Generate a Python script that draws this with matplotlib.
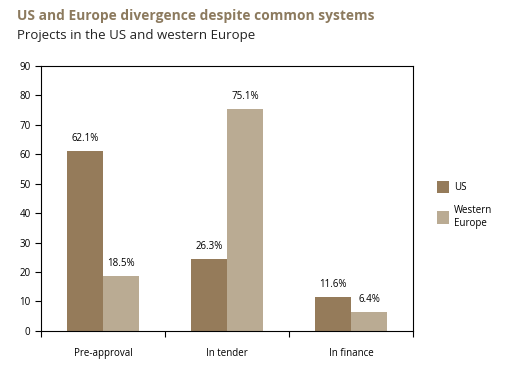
import matplotlib.pyplot as plt
import numpy as np

plt.rcParams['font.family'] = ['Open Sans', 'DejaVu Sans']

categories = ["Pre-approval", "In tender", "In finance"]
us_values = [61.1, 24.4, 11.6]
we_values = [18.6, 75.3, 6.4]
us_labels = ["62.1%", "26.3%", "11.6%"]
we_labels = ["18.5%", "75.1%", "6.4%"]
series_names = ["US", "Western\nEurope"]

us_color = "#957b5a"
we_color = "#baab93"

fig = plt.figure(figsize=(5.12, 3.71), dpi=100)
ax = fig.add_axes([0.080, 0.108, 0.727, 0.714])

x = np.arange(len(categories))
w = 0.29
bars_us = ax.bar(x - w / 2, us_values, w, color=us_color, label=series_names[0])
bars_we = ax.bar(x + w / 2, we_values, w, color=we_color, label=series_names[1])

for bars, labels in [(bars_us, us_labels), (bars_we, we_labels)]:
    for b, lab in zip(bars, labels):
        ax.annotate(lab, (b.get_x() + b.get_width() / 2, b.get_height()),
                    xytext=(0, 5), textcoords="offset points",
                    ha="center", va="bottom", fontsize=7)

ax.set_xlim(-0.5, len(categories) - 0.5)
ax.set_ylim(0, 90)
ax.set_yticks(range(0, 91, 10))
ax.set_xticks(np.arange(-0.5, len(categories)), minor=False)
ax.set_xticklabels([])
ax.set_xticks(x, minor=True)
ax.set_xticklabels(categories, minor=True)
ax.tick_params(axis="x", which="major", length=4, width=0.8, direction="out")
ax.tick_params(axis="x", which="minor", length=0, pad=12, labelsize=7)
ax.tick_params(axis="y", length=4, width=0.8, direction="out", labelsize=7)
for s in ax.spines.values():
    s.set_linewidth(0.8)

ax.legend(loc="upper left", bbox_to_anchor=(1.04, 0.60), frameon=False,
          fontsize=7, handlelength=1.3, handleheight=1.6,
          labelspacing=1.2, handletextpad=0.5)

fig.text(0.033, 0.958, "US and Europe divergence despite common systems",
         fontsize=9.9, fontweight="bold", color="#8c7a5e", va="center")
fig.text(0.033, 0.905, "Projects in the US and western Europe",
         fontsize=9.5, color="#222222", va="center")

fig.savefig("out.png", dpi=100)
